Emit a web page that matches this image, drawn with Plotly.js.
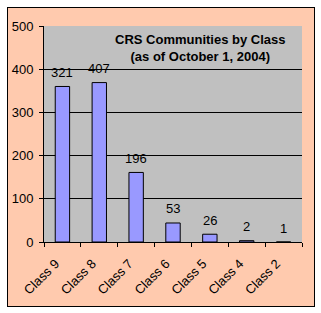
<!DOCTYPE html>
<html>
<head>
<meta charset="utf-8">
<script src="https://cdn.plot.ly/plotly-3.0.1.min.js"></script>
<style>
html,body{margin:0;padding:0;background:#ffffff;}
#frame{position:absolute;left:7px;top:7px;width:306px;height:298px;border:1px solid #000;}
#chart{width:306px;height:298px;}
</style>
</head>
<body>
<div id="frame"><div id="chart"></div></div>
<script>
const categories = ["Class 9","Class 8","Class 7","Class 6","Class 5","Class 4","Class 2"];
const barHeights = [360, 369, 161, 44, 18, 3, 0];
const valueLabels = ["321","407","196","53","26","2","1"];
const yTicks = [0,100,200,300,400,500];

const font = "Liberation Sans, Arial, sans-serif";

const trace = {
  type: "bar",
  x: categories,
  y: barHeights,
  marker: {color: "#9999FF", line: {color: "#000000", width: 1}},
  hoverinfo: "none"
};

const annotations = categories.map((c, i) => ({
  x: c, y: barHeights[i], xref: "x", yref: "y",
  text: valueLabels[i], showarrow: false,
  yanchor: "middle", yshift: 14,
  font: {family: font, size: 13, color: "#000"}
}));
annotations.push({
  xref: "paper", yref: "paper", x: 0.608, y: 0.90,
  xanchor: "center", yanchor: "middle",
  text: "<b>CRS Communities by Class</b><br><b>(as of October 1, 2004)</b>",
  showarrow: false,
  font: {family: font, size: 13, color: "#000"}
});

const layout = {
  width: 306, height: 298,
  margin: {l: 36, r: 12, t: 18, b: 64},
  paper_bgcolor: "#FFCAAE",
  plot_bgcolor: "#C0C0C0",
  bargap: 0.61,
  showlegend: false,
  font: {family: font, size: 13, color: "#000"},
  xaxis: {
    type: "category",
    tickangle: -45,
    ticks: "outside", ticklen: 4, tickcolor: "#000", tickwidth: 1,
    tickson: "boundaries",
    ticklabelstandoff: 8, ticklabelshift: -7,
    showline: true, linecolor: "#000", linewidth: 1,
    showgrid: false, zeroline: false,
    tickfont: {family: font, size: 13, color: "#000"}
  },
  yaxis: {
    range: [0, 500],
    tickvals: yTicks,
    ticks: "outside", ticklen: 4, tickcolor: "#000", tickwidth: 1,
    ticklabelstandoff: 3,
    showline: true, linecolor: "#000", linewidth: 1,
    showgrid: true, gridcolor: "#000", gridwidth: 1,
    zeroline: false,
    tickfont: {family: font, size: 13, color: "#000"}
  },
  annotations: annotations
};

Plotly.newPlot("chart", [trace], layout, {displayModeBar: false, staticPlot: true});
</script>
</body>
</html>
